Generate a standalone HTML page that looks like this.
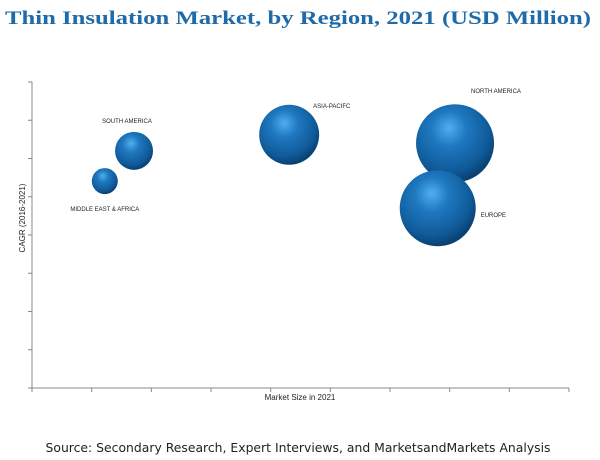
<!DOCTYPE html>
<html><head><meta charset="utf-8"><style>
body{margin:0;background:#fff;width:600px;height:460px;overflow:hidden}
svg{display:block}
</style></head><body>
<svg id="chart" width="600" height="460">
<defs>
<radialGradient id="ball" cx="0.42" cy="0.35" r="0.65" fx="0.42" fy="0.3">
<stop offset="0" stop-color="#4fb0ee"/>
<stop offset="0.35" stop-color="#1f78c0"/>
<stop offset="0.8" stop-color="#0f5a98"/>
<stop offset="1" stop-color="#0a3f72"/>
</radialGradient>
</defs>
<text x="298" y="24" text-anchor="middle" font-family="'Liberation Serif',serif" font-weight="bold" font-size="19" fill="#1f6aa8" textLength="586" lengthAdjust="spacingAndGlyphs">Thin Insulation Market, by Region, 2021 (USD Million)</text>
<g id="axes"></g>
<g id="bubbles"></g>
<text x="300" y="400" text-anchor="middle" font-family="'Liberation Sans',sans-serif" font-size="8" fill="#222">Market Size in 2021</text>
<text transform="translate(25,218) rotate(-90)" text-anchor="middle" font-family="'Liberation Sans',sans-serif" font-size="8" fill="#222">CAGR (2016-2021)</text>
<text x="298" y="452" text-anchor="middle" font-family="'DejaVu Sans',sans-serif" font-size="12" fill="#222" textLength="505" lengthAdjust="spacingAndGlyphs">Source: Secondary Research, Expert Interviews, and MarketsandMarkets Analysis</text>
</svg>
<script>
const regions = ["MIDDLE EAST & AFRICA","SOUTH AMERICA","ASIA-PACIFC","NORTH AMERICA","EUROPE"];
const marketSize = [1.22,1.71,4.31,7.09,6.80];
const cagr = [5.41,6.2,6.62,6.4,4.7];
const bubbleSize = [13,19,30,39,38];
const xTicks = [0,1,2,3,4,5,6,7,8,9];
const yTicks = [0,1,2,3,4,5,6,7,8];
const X0=32,X1=569,Y0=388,Y1=82;
const xs=v=>X0+(X1-X0)*v/9;
const ys=v=>Y0-(Y0-Y1)*v/8;
const NS="http://www.w3.org/2000/svg";
function mk(tag,attrs,parent){const e=document.createElementNS(NS,tag);for(const k in attrs)e.setAttribute(k,attrs[k]);parent.appendChild(e);return e;}
const ax=document.getElementById('axes');
let l=mk('line',{x1:X0,y1:Y0,x2:X1,y2:Y0,stroke:'#888','stroke-width':1},ax);


l=mk('line',{x1:X0,y1:Y0,x2:X0,y2:Y1,stroke:'#888','stroke-width':1},ax);


xTicks.forEach(t=>{const e=mk('line',{x1:xs(t),y1:Y0,x2:xs(t),y2:Y0+4,stroke:'#888'},ax);

});
yTicks.forEach(t=>{const e=mk('line',{x1:X0-4,y1:ys(t),x2:X0,y2:ys(t),stroke:'#888'},ax);

});
const bg=document.getElementById('bubbles');
regions.forEach((r,i)=>{
 const cx=xs(marketSize[i]),cy=ys(cagr[i]),rr=bubbleSize[i];
 const c=mk('circle',{cx:cx,cy:cy,r:rr,fill:'url(#ball)'},bg);
 
 
 let tx,ty,anc;
 if(i==0){tx=cx;ty=cy+rr+17;anc='middle';}
 else if(i==1){tx=cx-7;ty=cy-rr-9;anc='middle';}
 else if(i==2){tx=cx+24;ty=cy-rr+3;anc='start';}
 else if(i==3){tx=cx+16;ty=cy-rr-11;anc='start';}
 else {tx=cx+rr+5;ty=cy+9;anc='start';}
 const t=mk('text',{x:tx,y:ty,'text-anchor':anc,'font-family':"'Liberation Sans',sans-serif",'font-size':6,fill:'#222'},bg);
 t.textContent=r;
 
 
});
</script>
</body></html>
